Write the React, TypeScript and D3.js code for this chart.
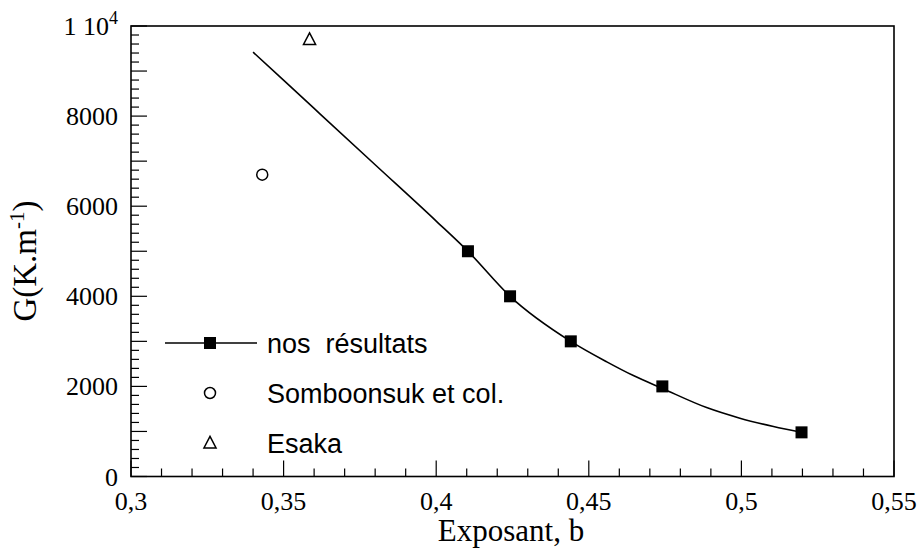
import React from "react";
import * as d3 from "d3";

// Data
const ourX = [0.4104, 0.4242, 0.4441, 0.4741, 0.5197];
const ourY = [5000, 4000, 3000, 2000, 980];
const fitX = [0.34, 0.36, 0.38, 0.4, 0.4104, 0.4242, 0.4441, 0.4559, 0.4646, 0.4741, 0.4886, 0.4995, 0.5105, 0.5197];
const fitY = [9420, 8170, 6920, 5670, 5000, 4000, 3000, 2545, 2240, 1955, 1530, 1295, 1110, 980];
const somboonsukX = [0.343];
const somboonsukY = [6700];
const esakaX = [0.3585];
const esakaY = [9700];
const xTicks = [0.3, 0.35, 0.4, 0.45, 0.5, 0.55];
const xTickLabels = ["0,3", "0,35", "0,4", "0,45", "0,5", "0,55"];
const yTicks = [0, 2000, 4000, 6000, 8000];
const yTickLabels = ["0", "2000", "4000", "6000", "8000"];
const legendLabels = ["nos  résultats", "Somboonsuk et col.", "Esaka"];

const W = 919;
const H = 556;
const L = 131, R = 894, T = 26, B = 476.5;

export default function App() {
  const x = d3.scaleLinear().domain([0.3, 0.55]).range([L, R]);
  const y = d3.scaleLinear().domain([0, 10000]).range([B, T]);

  const serif = "'Liberation Serif', 'Times New Roman', serif";
  const sans = "'Liberation Sans', Arial, sans-serif";

  const xMinor = d3.range(0, 26).map((i) => 0.3 + i * 0.01);
  const yMinor = d3.range(0, 51).map((i) => i * 200);

  const fitLine = d3
    .line<number>()
    .x((_, i) => x(fitX[i]))
    .y((d) => y(d))
    .curve(d3.curveMonotoneX)(fitY);

  const sq = 12;
  const tri = (cx: number, cy: number, s: number) =>
    `M${cx},${cy - s * 0.6}L${cx + s * 0.55},${cy + s * 0.45}L${cx - s * 0.55},${cy + s * 0.45}Z`;

  const legX = 210;
  const legY = [343, 393, 443];

  return (
    <svg width={W} height={H} style={{ position: "absolute", left: 0, top: 0, background: "#fff" }}>
      {/* frame */}
      <rect x={L} y={T} width={R - L} height={B - T} fill="none" stroke="#000" strokeWidth={1.6} />
      {/* x ticks */}
      {xMinor.map((v, i) => {
        const major = i % 5 === 0;
        return (
          <line key={"xm" + i} x1={x(v)} x2={x(v)} y1={B} y2={B - (major ? 16 : 8)} stroke="#000" strokeWidth={1.2} />
        );
      })}
      {/* y ticks */}
      {yMinor.map((v, i) => {
        const major = i % 5 === 0;
        return (
          <line key={"ym" + i} x1={L} x2={L + (major ? 16 : 8)} y1={y(v)} y2={y(v)} stroke="#000" strokeWidth={1.2} />
        );
      })}
      {/* x labels */}
      {xTicks.map((v, i) => (
        <text key={"xl" + i} x={x(v)} y={B + 33} textAnchor="middle" fontFamily={serif} fontSize={26}>
          {xTickLabels[i]}
        </text>
      ))}
      {/* y labels */}
      {yTicks.map((v, i) => (
        <text key={"yl" + i} x={118} y={y(v) + 9} textAnchor="end" fontFamily={serif} fontSize={26}>
          {yTickLabels[i]}
        </text>
      ))}
      <text x={118} y={y(10000) + 9} textAnchor="end" fontFamily={serif} fontSize={26}>
        1 10<tspan fontSize={18} dy={-11}>4</tspan>
      </text>
      {/* axis titles */}
      <text x={511} y={541} textAnchor="middle" fontFamily={serif} fontSize={31}>
        Exposant, b
      </text>
      <text transform={`translate(36,261) rotate(-90)`} textAnchor="middle" fontFamily={serif} fontSize={33}>
        G(K.m<tspan fontSize={21} dy={-12}>-1</tspan><tspan dy={12}>)</tspan>
      </text>
      {/* fit curve */}
      <path d={fitLine || ""} fill="none" stroke="#000" strokeWidth={1.6} />
      {/* our results */}
      {ourX.map((v, i) => (
        <rect key={"o" + i} x={x(v) - sq / 2} y={y(ourY[i]) - sq / 2} width={sq} height={sq} fill="#000" />
      ))}
      {/* Somboonsuk */}
      {somboonsukX.map((v, i) => (
        <circle key={"s" + i} cx={x(v)} cy={y(somboonsukY[i])} r={5.5} fill="none" stroke="#000" strokeWidth={1.5} />
      ))}
      {/* Esaka */}
      {esakaX.map((v, i) => (
        <path key={"e" + i} d={tri(x(v), y(esakaY[i]), 11)} fill="none" stroke="#000" strokeWidth={1.5} />
      ))}
      {/* legend */}
      <line x1={165} x2={257} y1={legY[0]} y2={legY[0]} stroke="#000" strokeWidth={1.6} />
      <rect x={legX - sq / 2} y={legY[0] - sq / 2} width={sq} height={sq} fill="#000" />
      <circle cx={legX} cy={legY[1]} r={5.5} fill="none" stroke="#000" strokeWidth={1.5} />
      <path d={tri(legX, legY[2], 11)} fill="none" stroke="#000" strokeWidth={1.5} />
      {legendLabels.map((t, i) => (
        <text key={"lg" + i} x={267} y={legY[i] + 9.5} fontFamily={sans} fontSize={27} style={{ whiteSpace: "pre" }}>
          {t}
        </text>
      ))}
    </svg>
  );
}
